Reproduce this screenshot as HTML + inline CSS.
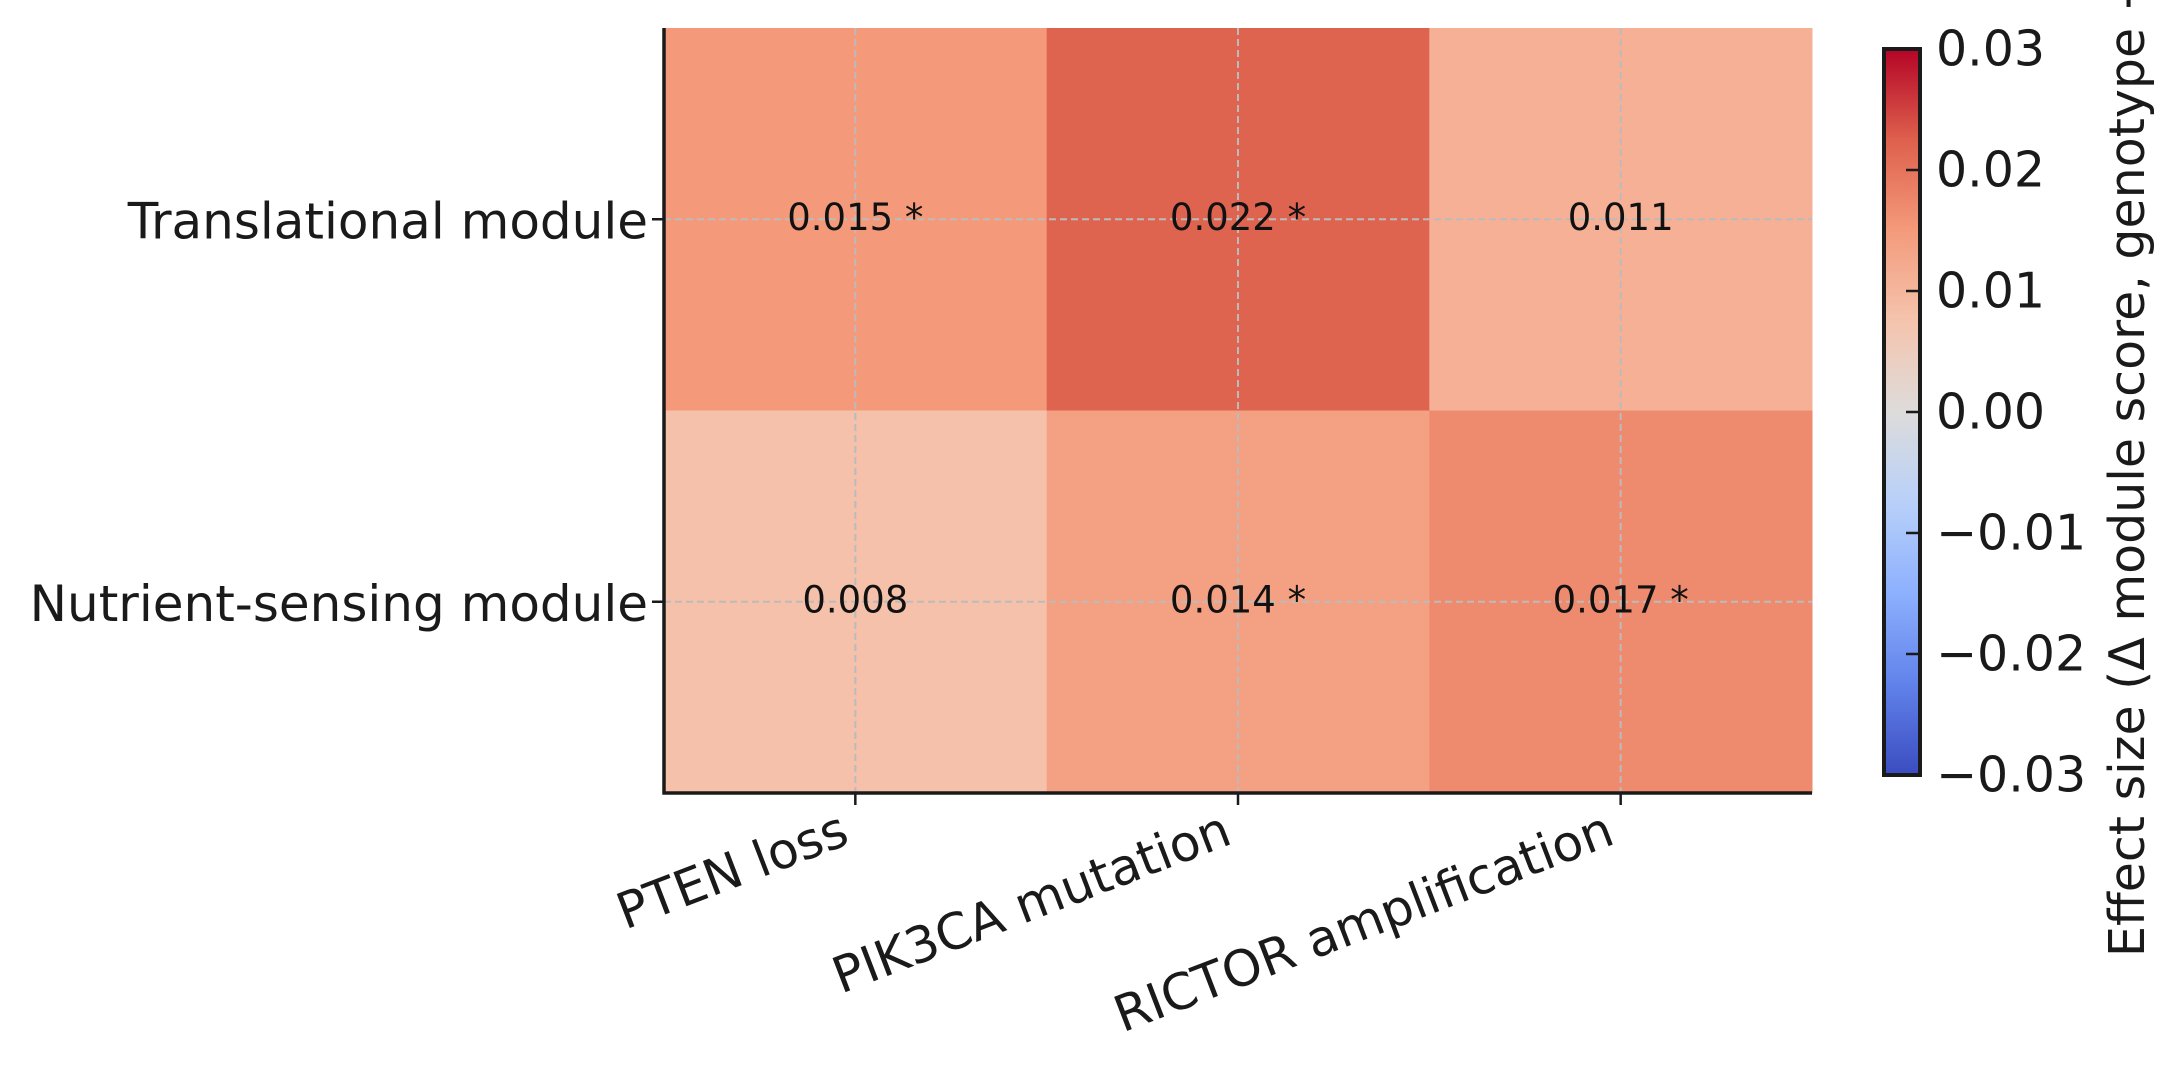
<!DOCTYPE html>
<html><head><meta charset="utf-8"><style>
html,body{margin:0;padding:0;background:#fff;}
svg{display:block;font-family:"DejaVu Sans","Liberation Sans",sans-serif;}
</style></head><body>
<svg id="chart" width="2182" height="1066" viewBox="0 0 2182 1066" xmlns="http://www.w3.org/2000/svg">
<defs>
<linearGradient id="cbgrad" x1="0" y1="1" x2="0" y2="0">
<stop offset="0" stop-color="rgb(59,76,192)"/>
<stop offset="0.125" stop-color="rgb(97,130,234)"/>
<stop offset="0.25" stop-color="rgb(141,176,254)"/>
<stop offset="0.375" stop-color="rgb(184,208,249)"/>
<stop offset="0.5" stop-color="rgb(221,220,219)"/>
<stop offset="0.625" stop-color="rgb(245,196,173)"/>
<stop offset="0.75" stop-color="rgb(244,154,123)"/>
<stop offset="0.875" stop-color="rgb(222,96,77)"/>
<stop offset="1" stop-color="rgb(180,4,38)"/>
</linearGradient>
</defs>
<g id="cells"></g>
<g id="grid"></g>
<g id="annots"></g>
<g id="axes"></g>
<g id="cbar"></g>
</svg>
<script>
const columns = ["PTEN loss", "PIK3CA mutation", "RICTOR amplification"];
const rows = ["Translational module", "Nutrient-sensing module"];
const valuesTranslational = [0.015, 0.022, 0.011];
const valuesNutrient = [0.008, 0.014, 0.017];
const significantTranslational = [true, true, false];
const significantNutrient = [false, true, true];
const colorbarTicks = [0.03, 0.02, 0.01, 0.00, -0.01, -0.02, -0.03];
const colorbarTickLabels = ["0.03", "0.02", "0.01", "0.00", "\u22120.01", "\u22120.02", "\u22120.03"];
const vmin = -0.03, vmax = 0.03;

const NS = "http://www.w3.org/2000/svg";
const L = 664, R = 1812, T = 28, B = 793;
const cw = (R - L) / columns.length, rh = (B - T) / rows.length;
const xCenter = i => L + cw * (i + 0.5);
const yCenter = j => T + rh * (j + 0.5);
const CB = {x: 1884, w: 36, top: 49, bot: 775};
const cbY = v => CB.bot - (v - vmin) / (vmax - vmin) * (CB.bot - CB.top);

const stops = [[0,[59,76,192]],[0.125,[97,130,234]],[0.25,[141,176,254]],[0.375,[184,208,249]],[0.5,[221,220,219]],[0.625,[245,196,173]],[0.75,[244,154,123]],[0.875,[222,96,77]],[1,[180,4,38]]];
function cmap(v){
  let t = Math.max(0, Math.min(1, (v - vmin) / (vmax - vmin)));
  for (let k = 0; k < stops.length - 1; k++) {
    const [t0,c0] = stops[k], [t1,c1] = stops[k+1];
    if (t <= t1) { const f = (t - t0) / (t1 - t0);
      return "rgb(" + c0.map((c,i)=>Math.round(c + (c1[i]-c)*f)).join(",") + ")"; }
  }
  return "rgb(180,4,38)";
}
function mk(tag, attrs, parent){ const e = document.createElementNS(NS, tag); for (const k in attrs) e.setAttribute(k, attrs[k]); parent.appendChild(e); return e; }

const data = [valuesTranslational, valuesNutrient];
const sig = [significantTranslational, significantNutrient];
const cells = document.getElementById('cells'), annots = document.getElementById('annots');
data.forEach((row, j) => row.forEach((v, i) => {
  const r = mk('rect', {x: L + cw*i, y: T + rh*j, width: cw + 0.5, height: rh + 0.5, fill: cmap(v)}, cells);
  
  
  const t = mk('text', {x: xCenter(i), y: yCenter(j) - 2, 'font-size': 37, 'text-anchor': 'middle', 'dominant-baseline': 'central', fill: '#111'}, annots);
  t.textContent = v.toFixed(3) + (sig[j][i] ? " *" : "");
  
  
}));

const grid = document.getElementById('grid');
columns.forEach((c, i) => { const g = mk('line', {x1: xCenter(i), x2: xCenter(i), y1: T, y2: B, stroke: '#bbb', 'stroke-width': 2, 'stroke-dasharray': '7,4'}, grid);
    });
rows.forEach((r, j) => { const g = mk('line', {x1: L, x2: R, y1: yCenter(j), y2: yCenter(j), stroke: '#bbb', 'stroke-width': 2, 'stroke-dasharray': '7,4'}, grid);
    });

const axes = document.getElementById('axes');
const ls = mk('line', {x1: L, x2: L, y1: T, y2: B + 1.5, stroke: '#1a1a1a', 'stroke-width': 3.5}, axes);
 
const bs = mk('line', {x1: L - 1.5, x2: R, y1: B, y2: B, stroke: '#1a1a1a', 'stroke-width': 3.5}, axes);
 
columns.forEach((c, i) => {
  const tk = mk('line', {x1: xCenter(i), x2: xCenter(i), y1: B, y2: B + 12, stroke: '#1a1a1a', 'stroke-width': 2.5}, axes);
   
  const t = mk('text', {x: 0, y: 0, 'font-size': 50, 'text-anchor': 'end', fill: '#1a1a1a', transform: `translate(${xCenter(i)-4},${B+50}) rotate(-21)`}, axes);
  t.textContent = c;
   
});
rows.forEach((r, j) => {
  const tk = mk('line', {x1: L - 12, x2: L, y1: yCenter(j), y2: yCenter(j), stroke: '#1a1a1a', 'stroke-width': 2.5}, axes);
   
  const t = mk('text', {x: L - 16, y: yCenter(j) + 2, 'font-size': 50, 'text-anchor': 'end', 'dominant-baseline': 'central', fill: '#1a1a1a'}, axes);
  t.textContent = r;
   
});

const cbar = document.getElementById('cbar');
const cr = mk('rect', {x: CB.x, y: CB.top, width: CB.w, height: CB.bot - CB.top, fill: 'url(#cbgrad)', stroke: '#1a1a1a', 'stroke-width': 4}, cbar);
 
colorbarTicks.forEach((v, k) => {
  const y = cbY(v);
  const tk = mk('line', {x1: CB.x + CB.w - 14, x2: CB.x + CB.w, y1: y, y2: y, stroke: '#1a1a1a', 'stroke-width': 2.5}, cbar);
   
  const t = mk('text', {x: CB.x + CB.w + 16, y: y, 'font-size': 49, 'dominant-baseline': 'central', fill: '#1a1a1a'}, cbar);
  t.textContent = colorbarTickLabels[k];
   
});
const lab = mk('text', {x: 0, y: 0, 'font-size': 49, 'text-anchor': 'start', fill: '#1a1a1a', transform: 'translate(2144,957) rotate(-90)'}, cbar);
lab.textContent = "Effect size (\u0394 module score, genotype \u2212 wild-type)";
 
</script>
</body></html>
